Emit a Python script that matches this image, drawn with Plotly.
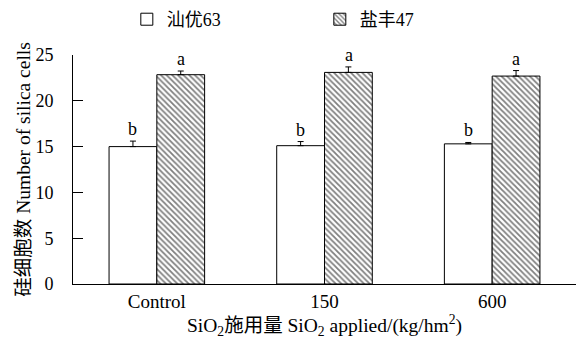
import plotly.graph_objects as go

categories = ["Control", "150", "600"]
series_names = ["汕优63", "盐丰47"]
shanyou63 = [15.0, 15.1, 15.3]
shanyou63_err = [0.6, 0.45, 0.15]
yanfeng47 = [22.85, 23.1, 22.7]
yanfeng47_err = [0.4, 0.6, 0.6]
letters_shanyou = ["b", "b", "b"]
letters_yanfeng = ["a", "a", "a"]
y_ticks = [0, 5, 10, 15, 20, 25]

serif = "Liberation Serif, Times New Roman, Noto Sans CJK SC, serif"

fig = go.Figure()
fig.add_trace(go.Bar(
    name=series_names[0], x=categories, y=shanyou63,
    marker=dict(color="white", line=dict(color="black", width=1)),
    error_y=dict(type="data", array=shanyou63_err, arrayminus=[0]*3, symmetric=False,
                 color="black", thickness=1, width=3),
))
fig.add_trace(go.Bar(
    name=series_names[1], x=categories, y=yanfeng47,
    marker=dict(color="white", line=dict(color="black", width=1),
                pattern=dict(shape="\\", fgcolor="black", bgcolor="white", size=4, solidity=0.45)),
    error_y=dict(type="data", array=yanfeng47_err, arrayminus=[0]*3, symmetric=False,
                 color="black", thickness=1, width=3),
))

annotations = []
for i, c in enumerate(categories):
    annotations.append(dict(x=i, y=shanyou63[i] + shanyou63_err[i], text=letters_shanyou[i],
                            xshift=-24, yshift=12, showarrow=False, xref="x", yref="y",
                            font=dict(family=serif, size=18, color="black")))
    annotations.append(dict(x=i, y=yanfeng47[i] + yanfeng47_err[i], text=letters_yanfeng[i],
                            xshift=24, yshift=12, showarrow=False, xref="x", yref="y",
                            font=dict(family=serif, size=18, color="black")))

# y-axis title as rotated text
annotations.append(dict(x=-0.099, y=0.5, xref="paper", yref="paper",
                        xanchor="center", yanchor="middle",
                        text="硅细胞数 Number of silica cells", textangle=-90,
                        showarrow=False, font=dict(family=serif, size=19.5, color="black")))

fig.update_layout(
    width=576, height=345,
    margin=dict(l=73, r=0, t=55, b=61, autoexpand=False),
    paper_bgcolor="white", plot_bgcolor="white",
    barmode="group", bargap=0.43, bargroupgap=0,
    font=dict(family=serif, size=18, color="black"),
    showlegend=True,
    legend=dict(orientation="h", x=0.107, xanchor="left", y=1.155, yanchor="middle",
                entrywidth=148, entrywidthmode="pixels", font=dict(size=18),
                bgcolor="rgba(0,0,0,0)"),
    annotations=annotations,
)
fig.update_xaxes(
    showline=True, linecolor="black", linewidth=1, ticks="", showgrid=False,
    range=[-0.5, 2.5], automargin=False,
    title=dict(text="SiO<sub>2</sub>施用量 SiO<sub>2</sub> applied/(kg/hm<sup>2</sup>)",
               font=dict(size=19.5), standoff=6),
    tickfont=dict(size=19),
)
fig.update_yaxes(
    showline=True, linecolor="black", linewidth=1, ticks="inside", ticklen=10,
    tickcolor="black", showgrid=False, zeroline=False, automargin=False,
    range=[0, 25], tickvals=y_ticks, ticklabelstandoff=15,
    tickfont=dict(size=18),
)

fig.write_html("out.html", post_script="document.body.style.margin='0';",
               config={"displayModeBar": False})
